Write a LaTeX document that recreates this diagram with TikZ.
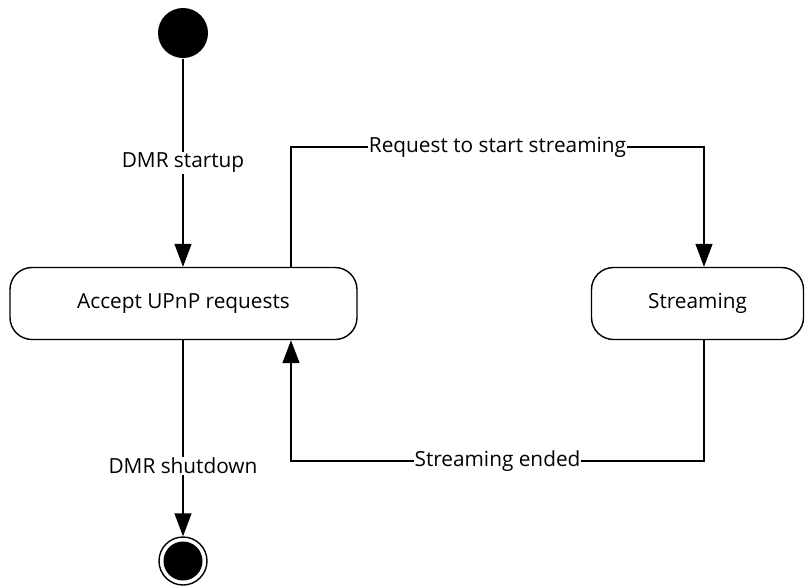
\documentclass[tikz,border=0pt]{standalone}
\usepackage{fontspec}
\setmainfont{Open Sans}
\usetikzlibrary{arrows.meta}
\begin{document}
\begin{tikzpicture}[x=1pt,y=-1pt,
  line width=1.4pt,
  every node/.style={font=\fontsize{20.8}{24}\selectfont},
  state/.style={draw, rounded corners=22pt, minimum height=72pt, inner sep=0pt},
  lbl/.style={fill=white, inner xsep=0.5pt, inner ysep=1pt},
  arr/.style={-{Triangle[length=23pt,width=17pt]}}]
\useasboundingbox (0,0) rectangle (805,587);
\node[circle, fill=black, minimum size=50pt, inner sep=0pt] (init) at (183,33) {};
\node[state, minimum width=347pt] (accept) at (183.5,303.5) {Accept UPnP requests};
\node[state, minimum width=212pt] (stream) at (697.5,303.5) {Streaming};
\node[circle, draw, line width=1.4pt, minimum size=48pt, inner sep=0pt] (final) at (183,561) {};
\fill (final.center) circle (19.5pt);
\coordinate (a1) at (291,147);
\coordinate (a2) at (704,147);
\coordinate (b1) at (704,461);
\coordinate (b2) at (291,461);
\draw[arr] (init) -- node[lbl] {DMR startup} (accept.north -| init);
\draw[arr] (accept.north -| a1) -- (a1) -- node[lbl] {Request to start streaming} (a2) -- (stream.north -| a2);
\draw[arr] (stream.south -| b1) -- (b1) -- node[lbl] {Streaming ended} (b2) -- (accept.south -| b2);
\draw[arr] (accept.south -| final) -- node[lbl, pos=0.64] {DMR shutdown} (final);
\end{tikzpicture}
\end{document}
